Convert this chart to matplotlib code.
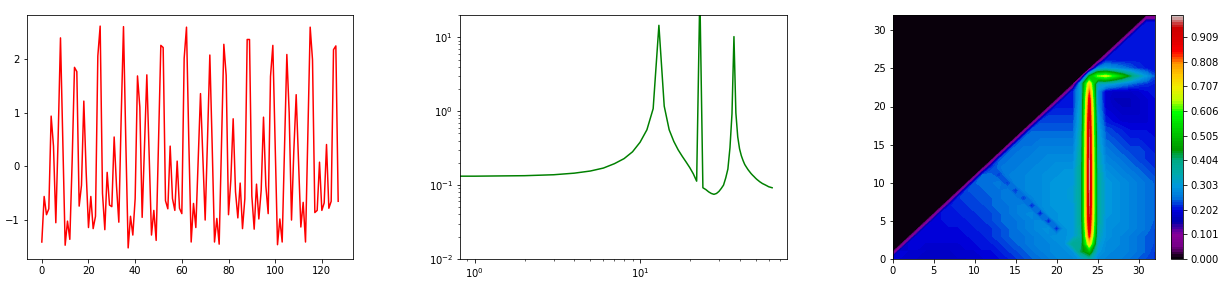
import numpy as np
import matplotlib
matplotlib.use('Agg')
import matplotlib.pyplot as plt

# DATA
# ----------------------
# time series, 128 samples
signal = [-1.41, -0.56, -0.90, -0.79, 0.94, 0.38, -1.05, 0.55, 2.40, 0.45,
          -1.47, -1.02, -1.36, 0.10, 1.85, 1.77, -0.74, -0.35, 1.22, -0.10,
          -1.14, -0.56, -1.16, -0.93, 2.06, 2.62, -0.50, -1.18, -0.11, -0.72,
          -0.75, 0.55, -0.36, -1.04, 0.90, 2.61, 0.45, -1.52, -0.93, -1.28,
          -0.60, 1.69, 1.11, -0.95, 0.40, 1.71, 0.20, -1.28, -0.82, -1.38,
          0.40, 2.26, 2.22, -0.64, -0.79, 0.38, -0.60, -0.82, 0.10, -0.78,
          -0.88, 2.02, 2.60, 0.45, -1.41, -0.69, -1.14, 0.10, 1.36, 0.20,
          -1.00, 0.50, 2.08, 0.40, -1.41, -0.97, -1.45, 0.40, 2.28, 1.70,
          -0.90, -0.25, 0.89, -0.47, -0.96, -0.31, -1.16, -0.60, 2.37, 2.37,
          -0.55, -1.17, -0.33, -0.98, -0.45, 0.92, -0.36, -0.88, 1.68, 2.26,
          0.40, -1.46, -0.98, -1.41, 0.35, 2.09, 1.00, -1.00, 0.30, 1.34,
          0.10, -1.13, -0.67, -1.41, 0.60, 2.60, 1.99, -0.86, -0.82, 0.08,
          -0.82, -0.68, 0.41, -0.78, -0.65, 2.18, 2.25, -0.65]

# power spectrum on frequency bins 0..63
spec_freq = list(range(64))
spectrum = [0.132, 0.132, 0.134, 0.138, 0.145, 0.155, 0.170, 0.195, 0.228, 0.282,
            0.380, 0.560, 1.08, 14.5, 1.17, 0.560, 0.390, 0.300, 0.245, 0.205,
            0.172, 0.142, 0.113, 40.0, 0.092, 0.087, 0.081, 0.077, 0.075, 0.077,
            0.082, 0.090, 0.100, 0.125, 0.165, 0.320, 0.920, 10.2, 0.950, 0.450,
            0.310, 0.250, 0.215, 0.190, 0.175, 0.162, 0.152, 0.143, 0.136, 0.130,
            0.124, 0.119, 0.115, 0.111, 0.108, 0.105, 0.103, 0.101, 0.099, 0.097,
            0.095, 0.094, 0.093, 0.092]

# bicoherence in percent, row y holds the values for x = y..32
bicoh_rows = [
    [20, 19, 19, 18, 18, 18, 18, 18, 18, 18, 19, 19, 20, 20, 21, 22, 23, 24, 25, 26, 27, 28, 28, 30, 35, 28, 27, 27, 26, 25, 24, 23, 22],
    [20, 19, 19, 18, 18, 18, 18, 19, 19, 19, 20, 20, 21, 22, 23, 24, 25, 26, 27, 28, 28, 29, 42, 50, 30, 28, 27, 27, 26, 25, 24, 22],
    [20, 20, 19, 19, 19, 19, 19, 20, 20, 21, 21, 22, 23, 24, 25, 26, 27, 27, 28, 29, 38, 38, 72, 32, 28, 28, 27, 26, 25, 24, 23],
    [20, 20, 20, 20, 20, 20, 20, 21, 21, 22, 23, 24, 25, 25, 26, 27, 28, 29, 29, 30, 36, 85, 34, 29, 28, 27, 26, 25, 24, 23],
    [20, 20, 20, 20, 20, 21, 21, 22, 22, 23, 24, 25, 26, 27, 28, 29, 21, 29, 30, 37, 91, 36, 29, 28, 28, 27, 26, 25, 23],
    [20, 20, 21, 21, 21, 22, 22, 23, 24, 25, 25, 26, 27, 28, 20, 29, 30, 30, 38, 94, 37, 29, 29, 28, 27, 26, 25, 24],
    [21, 21, 21, 22, 22, 23, 23, 24, 25, 26, 27, 28, 20, 29, 29, 30, 30, 38, 96, 37, 30, 29, 28, 27, 26, 25, 24],
    [21, 22, 22, 23, 23, 24, 25, 25, 26, 27, 21, 28, 29, 30, 30, 30, 38, 97, 37, 30, 29, 28, 27, 26, 25, 24],
    [22, 23, 23, 24, 24, 25, 26, 26, 22, 27, 28, 29, 30, 30, 31, 38, 97, 37, 30, 29, 28, 27, 26, 25, 24],
    [23, 24, 24, 25, 25, 26, 22, 27, 28, 28, 29, 30, 30, 31, 38, 98, 37, 30, 29, 28, 27, 26, 25, 24],
    [24, 25, 25, 26, 22, 27, 27, 28, 28, 29, 30, 30, 30, 38, 98, 37, 30, 29, 28, 27, 26, 25, 24],
    [25, 25, 22, 26, 27, 27, 28, 28, 29, 29, 30, 30, 38, 98, 37, 29, 28, 27, 26, 25, 24, 23],
    [22, 25, 26, 26, 27, 27, 28, 28, 29, 29, 29, 38, 98, 36, 28, 27, 26, 25, 24, 23, 22],
    [24, 25, 26, 26, 27, 27, 28, 28, 28, 28, 37, 98, 35, 27, 26, 25, 24, 23, 22, 22],
    [24, 25, 26, 26, 27, 27, 27, 27, 27, 37, 97, 35, 26, 25, 24, 23, 23, 22, 21],
    [24, 25, 25, 26, 26, 26, 26, 26, 36, 97, 34, 25, 24, 23, 22, 22, 21, 21],
    [24, 25, 25, 25, 25, 25, 25, 36, 97, 33, 24, 23, 22, 21, 21, 21, 20],
    [24, 24, 24, 24, 24, 24, 35, 96, 32, 23, 22, 21, 20, 20, 20, 20],
    [23, 23, 23, 23, 23, 34, 95, 31, 21, 20, 19, 19, 19, 19, 20],
    [22, 22, 22, 22, 34, 93, 30, 20, 19, 18, 18, 18, 19, 20],
    [21, 21, 21, 33, 91, 29, 19, 18, 17, 17, 18, 19, 20],
    [21, 21, 32, 88, 28, 19, 17, 17, 17, 18, 19, 20],
    [21, 32, 82, 28, 19, 18, 18, 18, 19, 20, 21],
    [35, 72, 33, 32, 30, 27, 25, 23, 22, 21],
    [45, 62, 66, 58, 50, 42, 34, 29, 23],
    [28, 30, 28, 26, 24, 22, 21, 20],
    [21, 21, 21, 21, 21, 21, 21],
    [21, 21, 21, 21, 21, 21],
    [21, 21, 21, 21, 21],
    [21, 21, 21, 21],
    [21, 21, 21],
    [21, 21],
    [0],
]
# ----------------------

W, H = 1227, 282
fig = plt.figure(figsize=(W/72, H/72), dpi=72)

# time series
ax1 = fig.add_axes([27/W, 23/H, 326/W, 244/H])
ax1.plot(signal, 'r')

# spectrum
ax2 = fig.add_axes([460/W, 23/H, 327/W, 244/H])
ax2.loglog(spec_freq, spectrum, 'g')
ax2.set_ylim(1e-2, 2e1)

# bicoherence
n = len(bicoh_rows)
grid = np.zeros((n, n))
for y, row in enumerate(bicoh_rows):
    grid[y, y:y+len(row)] = np.array(row) / 100.0
ax3 = fig.add_axes([892.5/W, 23/H, 262.5/W, 244/H])
cs = ax3.contourf(np.arange(n), np.arange(n), grid,
                  levels=np.linspace(0, 1, 100), cmap='nipy_spectral')
cax = fig.add_axes([1171/W, 23/H, 12/W, 244/H])
fig.colorbar(cs, cax=cax)

fig.savefig('out.png', dpi=72)
